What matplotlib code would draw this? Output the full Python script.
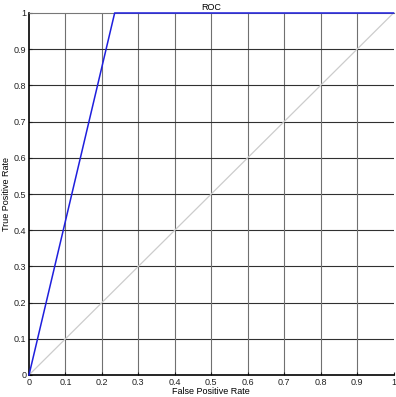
import matplotlib
matplotlib.use("Agg")
import matplotlib.pyplot as plt

plt.rcParams['font.family'] = ['Liberation Sans', 'DejaVu Sans']

# ROC curve points
fpr = [0.0, 0.235, 1.0]
tpr = [0.0, 1.0, 1.0]
chance = [0.0, 1.0]
ticks = [0, 0.1, 0.2, 0.3, 0.4, 0.5, 0.6, 0.7, 0.8, 0.9, 1]
tick_labels = ["0", "0.1", "0.2", "0.3", "0.4", "0.5", "0.6", "0.7", "0.8", "0.9", "1"]

W, H = 396, 397
fig = plt.figure(figsize=(W / 100, H / 100), dpi=100)
ax = fig.add_axes([29 / W, 1 - 375 / H, (393.5 - 29) / W, (375 - 13) / H])

for t in ticks[1:-1]:
    ax.axvline(t, color="#707070", lw=0.8, zorder=1)
    ax.axhline(t, color="#303030", lw=0.8, zorder=1)

ax.plot(chance, chance, color="#cccccc", lw=0.9, zorder=2)
ax.plot(fpr, tpr, color="#1f1fdd", lw=1.1, zorder=3, clip_on=False)

ax.set_xlim(0, 1)
ax.set_ylim(0, 1)
ax.set_xticks(ticks)
ax.set_yticks(ticks)
ax.set_xticklabels(tick_labels, fontsize=6.5)
ax.set_yticklabels(tick_labels, fontsize=6.5)
ax.tick_params(direction="in", length=2, width=0.8, pad=2, colors="#222222")
ax.spines["top"].set_color("#777777")
ax.spines["right"].set_visible(False)
for side in ["left", "bottom"]:
    ax.spines[side].set_color("black")
    ax.spines[side].set_linewidth(1.2)

ax.set_title("ROC", fontsize=6.5, pad=2)
ax.set_xlabel("False Positive Rate", fontsize=6.5, labelpad=0)
ax.set_ylabel("True Positive Rate", fontsize=6.5, labelpad=2)

fig.savefig("out.png", dpi=100)
